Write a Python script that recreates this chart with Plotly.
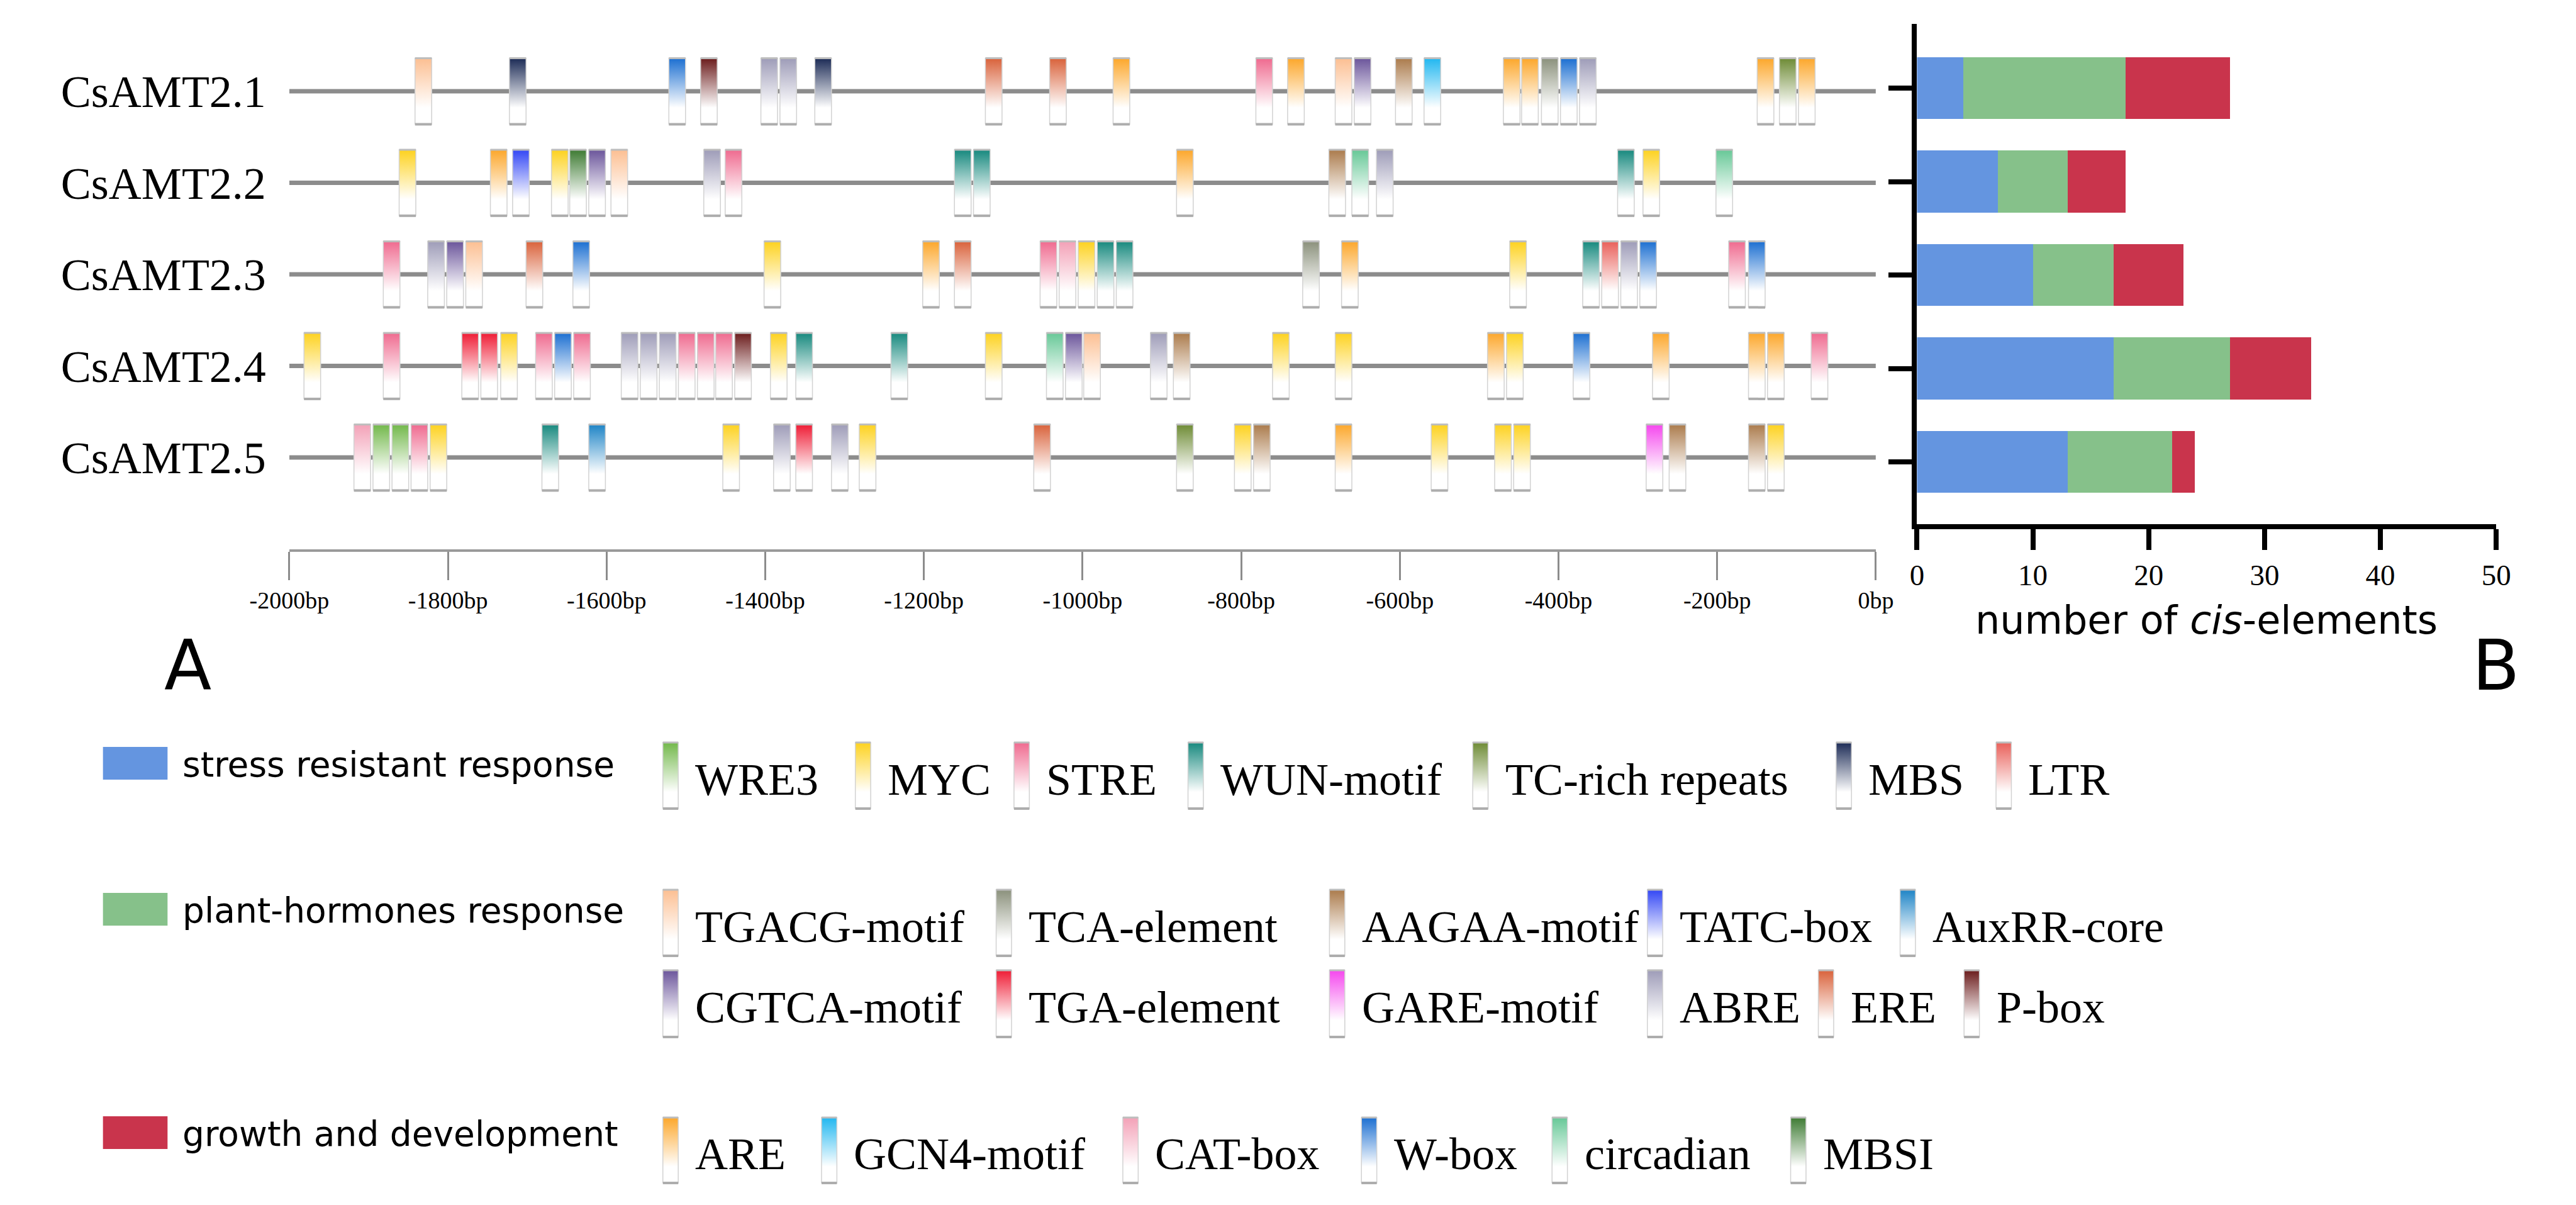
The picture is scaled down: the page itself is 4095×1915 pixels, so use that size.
import plotly.graph_objects as go

W, H = 4095, 1915

# ---------------- data ----------------
genes = ["CsAMT2.1", "CsAMT2.2", "CsAMT2.3", "CsAMT2.4", "CsAMT2.5"]

pos_21 = [-1831, -1712, -1511, -1471, -1395, -1371, -1327, -1112, -1031, -951, -771, -731,
          -671, -647, -595, -559, -459, -436, -411, -387, -363, -139, -111, -87]
el_21 = ["TGACG-motif", "MBS", "W-box", "P-box", "ABRE", "ABRE", "MBS", "ERE", "ERE", "ARE",
         "STRE", "ARE", "TGACG-motif", "CGTCA-motif", "AAGAA-motif", "GCN4-motif", "ARE", "ARE",
         "TCA-element", "W-box", "ABRE", "ARE", "TC-rich repeats", "ARE"]

pos_22 = [-1851, -1736, -1708, -1659, -1636, -1612, -1584, -1467, -1440, -1151, -1127, -871,
          -679, -650, -619, -315, -283, -191]
el_22 = ["MYC", "ARE", "TATC-box", "MYC", "MBSI", "CGTCA-motif", "TGACG-motif", "ABRE", "STRE",
         "WUN-motif", "WUN-motif", "ARE", "AAGAA-motif", "circadian", "ABRE", "WUN-motif", "MYC",
         "circadian"]

pos_23 = [-1871, -1815, -1791, -1767, -1691, -1632, -1391, -1191, -1151, -1043, -1019, -995,
          -971, -947, -712, -663, -451, -359, -335, -311, -287, -175, -150]
el_23 = ["STRE", "ABRE", "CGTCA-motif", "TGACG-motif", "ERE", "W-box", "MYC", "ARE", "ERE", "STRE",
         "CAT-box", "MYC", "WUN-motif", "WUN-motif", "TCA-element", "ARE", "MYC", "WUN-motif", "LTR",
         "ABRE", "W-box", "STRE", "W-box"]

pos_24 = [-1971, -1871, -1772, -1748, -1723, -1679, -1655, -1631, -1571, -1547, -1523, -1499,
          -1475, -1452, -1428, -1383, -1351, -1231, -1112, -1035, -1011, -988, -904, -875, -750,
          -671, -479, -455, -371, -271, -150, -126, -71]
el_24 = ["MYC", "STRE", "TGA-element", "TGA-element", "MYC", "STRE", "W-box", "STRE", "ABRE", "ABRE",
         "ABRE", "STRE", "STRE", "STRE", "P-box", "MYC", "WUN-motif", "WUN-motif", "MYC", "circadian",
         "CGTCA-motif", "TGACG-motif", "ABRE", "AAGAA-motif", "MYC", "MYC", "ARE", "MYC", "W-box",
         "ARE", "ARE", "ARE", "STRE"]

pos_25 = [-1908, -1884, -1860, -1836, -1812, -1671, -1612, -1443, -1379, -1351, -1306, -1271,
          -1051, -871, -798, -774, -671, -550, -470, -446, -279, -250, -150, -126]
el_25 = ["CAT-box", "WRE3", "WRE3", "STRE", "MYC", "WUN-motif", "AuxRR-core", "MYC", "ABRE",
         "TGA-element", "ABRE", "MYC", "ERE", "TC-rich repeats", "MYC", "AAGAA-motif", "ARE", "MYC",
         "MYC", "MYC", "GARE-motif", "AAGAA-motif", "AAGAA-motif", "MYC"]

positions = [pos_21, pos_22, pos_23, pos_24, pos_25]
elements = [el_21, el_22, el_23, el_24, el_25]

categories = ["stress resistant response", "plant-hormones response", "growth and development"]
stress_counts = [4, 7, 10, 17, 13]
hormone_counts = [14, 6, 7, 10, 9]
growth_counts = [9, 5, 6, 7, 2]

stress_elements = ["WRE3", "MYC", "STRE", "WUN-motif", "TC-rich repeats", "MBS", "LTR"]
hormone_elements_1 = ["TGACG-motif", "TCA-element", "AAGAA-motif", "TATC-box", "AuxRR-core"]
hormone_elements_2 = ["CGTCA-motif", "TGA-element", "GARE-motif", "ABRE", "ERE", "P-box"]
growth_elements = ["ARE", "GCN4-motif", "CAT-box", "W-box", "circadian", "MBSI"]

bp_ticks = list(range(-2000, 1, 200))
bp_labels = [f"{v}bp" for v in bp_ticks]
count_ticks = [0, 10, 20, 30, 40, 50]

# ---------------- styles ----------------
ELEMENT_COLORS = {
    "WRE3": "#72b84a", "MYC": "#fdd21f", "STRE": "#ef6a8f", "WUN-motif": "#17897e",
    "TC-rich repeats": "#6e8b35", "MBS": "#1c2b56", "LTR": "#e9605a",
    "TGACG-motif": "#fcbf92", "TCA-element": "#8b917c", "AAGAA-motif": "#ab7b4c",
    "TATC-box": "#3347f5", "AuxRR-core": "#1e84c6", "CGTCA-motif": "#6b559b",
    "TGA-element": "#ef1c35", "GARE-motif": "#f547ee", "ABRE": "#9e9cb8", "ERE": "#d9623b",
    "P-box": "#6b1c1c", "ARE": "#fca72b", "GCN4-motif": "#21b7f0", "CAT-box": "#f3a1b7",
    "W-box": "#1c6fd1", "circadian": "#67c897", "MBSI": "#3e7b33",
}
CATEGORY_COLORS = ["#6495e0", "#86c18a", "#c9344c"]
SERIF = "Liberation Serif"
SANS = "DejaVu Sans"

# pixel layout helpers
def pxx(p):
    return p / W

def pxy(p):
    return 1 - p / H

ROW0, ROW_STEP = 145, 145.5
GENE_YMAX, GENE_YMIN = 0.7, -5.0
BOX_HW = 10.5      # bp
BOX_HH = 0.36      # row units
BAR_ROW0, BAR_STEP = 140, 148.5
BAR_TOP, BAR_BOT = 38, 833

fig = go.Figure()

def grad(color):
    return dict(type="vertical", colorscale=[[0, "#ffffff"], [0.25, "#ffffff"], [1, color]])

# gene lines
for gi, g in enumerate(genes):
    fig.add_trace(go.Scatter(x=[bp_ticks[0], bp_ticks[-1]], y=[-gi, -gi], mode="lines",
                             line=dict(color="#8c8c8c", width=7), hoverinfo="skip",
                             showlegend=False, xaxis="x", yaxis="y"))

# element boxes
top_x, top_y, bot_x, bot_y = [], [], [], []
for gi, (pos, els) in enumerate(zip(positions, elements)):
    yc = -gi
    for p, e in zip(pos, els):
        c = ELEMENT_COLORS[e]
        fig.add_trace(go.Scatter(
            x=[p - BOX_HW, p + BOX_HW, p + BOX_HW, p - BOX_HW, p - BOX_HW],
            y=[yc - BOX_HH, yc - BOX_HH, yc + BOX_HH, yc + BOX_HH, yc - BOX_HH],
            mode="lines", fill="toself", fillcolor=c, fillgradient=grad(c),
            line=dict(color="#d2d2d2", width=1.5), hoverinfo="skip", name=e,
            showlegend=False, xaxis="x", yaxis="y"))
        top_x += [p - BOX_HW, p + BOX_HW, None]
        top_y += [yc + BOX_HH, yc + BOX_HH, None]
        bot_x += [p - BOX_HW, p + BOX_HW, None]
        bot_y += [yc - BOX_HH, yc - BOX_HH, None]
fig.add_trace(go.Scatter(x=top_x, y=top_y, mode="lines", line=dict(color="#bdbdbd", width=3),
                         hoverinfo="skip", showlegend=False, xaxis="x", yaxis="y"))
fig.add_trace(go.Scatter(x=bot_x, y=bot_y, mode="lines", line=dict(color="#adadad", width=4),
                         hoverinfo="skip", showlegend=False, xaxis="x", yaxis="y"))

# stacked bars
bar_y = [-i for i in range(len(genes))]
for vals, name, col in zip([stress_counts, hormone_counts, growth_counts], categories, CATEGORY_COLORS):
    fig.add_trace(go.Bar(x=vals, y=bar_y, orientation="h", name=name, width=0.66,
                         marker=dict(color=col, line=dict(width=0)), showlegend=False,
                         xaxis="x2", yaxis="y2"))

# legend: element bars drawn in a full-figure pixel subplot
legend_rows = [
    (stress_elements, [1026, 1339, 1597, 1880, 2343, 2934, 3194], 1180, 1285),
    (hormone_elements_1, [1026, 1568, 2110, 2627, 3038], 1414, 1519),
    (hormone_elements_2, [1026, 1568, 2110, 2627, 2905, 3142], 1542, 1648),
    (growth_elements, [1026, 1284, 1774, 2162, 2472, 2860], 1776, 1880),
]
annotations = []
ltop_x, ltop_y, lbot_x, lbot_y = [], [], [], []
LHW = 12.5
for els, xs, t, b in legend_rows:
    for e, xc in zip(els, xs):
        c = ELEMENT_COLORS[e]
        yt, yb = H - t, H - b
        fig.add_trace(go.Scatter(
            x=[xc - LHW, xc + LHW, xc + LHW, xc - LHW, xc - LHW],
            y=[yb, yb, yt, yt, yb], mode="lines", fill="toself", fillcolor=c,
            fillgradient=grad(c), line=dict(color="#d2d2d2", width=1.5), hoverinfo="skip",
            showlegend=False, xaxis="x3", yaxis="y3"))
        ltop_x += [xc - LHW, xc + LHW, None]; ltop_y += [yt, yt, None]
        lbot_x += [xc - LHW, xc + LHW, None]; lbot_y += [yb, yb, None]
        annotations.append(dict(text=e, x=pxx(xc + 38), y=pxy((t + b) / 2 + 6), xref="paper",
                                yref="paper", xanchor="left", yanchor="middle", showarrow=False,
                                font=dict(family=SERIF, size=72, color="black")))
fig.add_trace(go.Scatter(x=ltop_x, y=ltop_y, mode="lines", line=dict(color="#bdbdbd", width=3),
                         hoverinfo="skip", showlegend=False, xaxis="x3", yaxis="y3"))
fig.add_trace(go.Scatter(x=lbot_x, y=lbot_y, mode="lines", line=dict(color="#adadad", width=4),
                         hoverinfo="skip", showlegend=False, xaxis="x3", yaxis="y3"))

# category legend
shapes = []
for name, col, yc in zip(categories, CATEGORY_COLORS, [1213, 1445, 1800]):
    shapes.append(dict(type="rect", xref="paper", yref="paper", x0=pxx(103), x1=pxx(208),
                       y0=pxy(yc + 26), y1=pxy(yc - 26), fillcolor=col, line=dict(width=0)))
    annotations.append(dict(text=name, x=pxx(230), y=pxy(yc + 2), xref="paper", yref="paper",
                            xanchor="left", yanchor="middle", showarrow=False,
                            font=dict(family=SANS, size=55, color="black")))

annotations.append(dict(text="number of <i>cis</i>-elements", x=pxx(3524), y=pxy(985),
                        xref="paper", yref="paper", xanchor="center", yanchor="middle",
                        showarrow=False, font=dict(family=SANS, size=62, color="black")))
annotations.append(dict(text="A", x=pxx(200), y=pxy(1058), xref="paper", yref="paper",
                        showarrow=False, font=dict(family=SANS, size=110, color="black")))
annotations.append(dict(text="B", x=pxx(4035), y=pxy(1058), xref="paper", yref="paper",
                        showarrow=False, font=dict(family=SANS, size=110, color="black")))

fig.update_layout(
    width=W, height=H, margin=dict(l=0, r=0, t=0, b=0),
    paper_bgcolor="white", plot_bgcolor="rgba(0,0,0,0)",
    barmode="stack", showlegend=False,
    shapes=shapes, annotations=annotations,
    xaxis=dict(domain=[pxx(406), pxx(2986)], range=[bp_ticks[0], bp_ticks[-1]], anchor="y",
               tickvals=bp_ticks, ticktext=bp_labels, ticks="outside", ticklen=45, tickwidth=2.5,
               tickcolor="#8c8c8c", showline=True, linecolor="#9a9a9a", linewidth=4,
               showgrid=False, zeroline=False,
               tickfont=dict(family=SERIF, size=38, color="black")),
    yaxis=dict(domain=[pxy(ROW0 - GENE_YMIN * ROW_STEP), pxy(ROW0 - GENE_YMAX * ROW_STEP)],
               range=[GENE_YMIN, GENE_YMAX], anchor="x",
               tickvals=[-i for i in range(len(genes))], ticktext=genes, ticks="",
               ticklabelstandoff=36, showline=False, showgrid=False, zeroline=False,
               tickfont=dict(family=SERIF, size=72, color="black")),
    xaxis2=dict(domain=[pxx(3053), pxx(3995)], range=[0, 50], anchor="y2",
                tickvals=count_ticks, ticks="outside", ticklen=33, tickwidth=8, tickcolor="black",
                showline=True, linecolor="black", linewidth=8, showgrid=False, zeroline=False,
                tickfont=dict(family=SERIF, size=47, color="black")),
    yaxis2=dict(domain=[pxy(BAR_BOT), pxy(BAR_TOP)],
                range=[-(BAR_BOT - BAR_ROW0) / BAR_STEP, (BAR_ROW0 - BAR_TOP) / BAR_STEP],
                anchor="x2", tickvals=bar_y, ticks="outside", ticklen=37, tickwidth=8,
                tickcolor="black", showticklabels=False, showline=True, linecolor="black",
                linewidth=8, showgrid=False, zeroline=False),
    xaxis3=dict(domain=[0, 1], range=[0, W], visible=False, anchor="y3", fixedrange=True),
    yaxis3=dict(domain=[0, 1], range=[0, H], visible=False, anchor="x3", fixedrange=True),
)

fig.write_html("out.html", config={"displayModeBar": False},
               post_script="document.body.style.margin='0';")
